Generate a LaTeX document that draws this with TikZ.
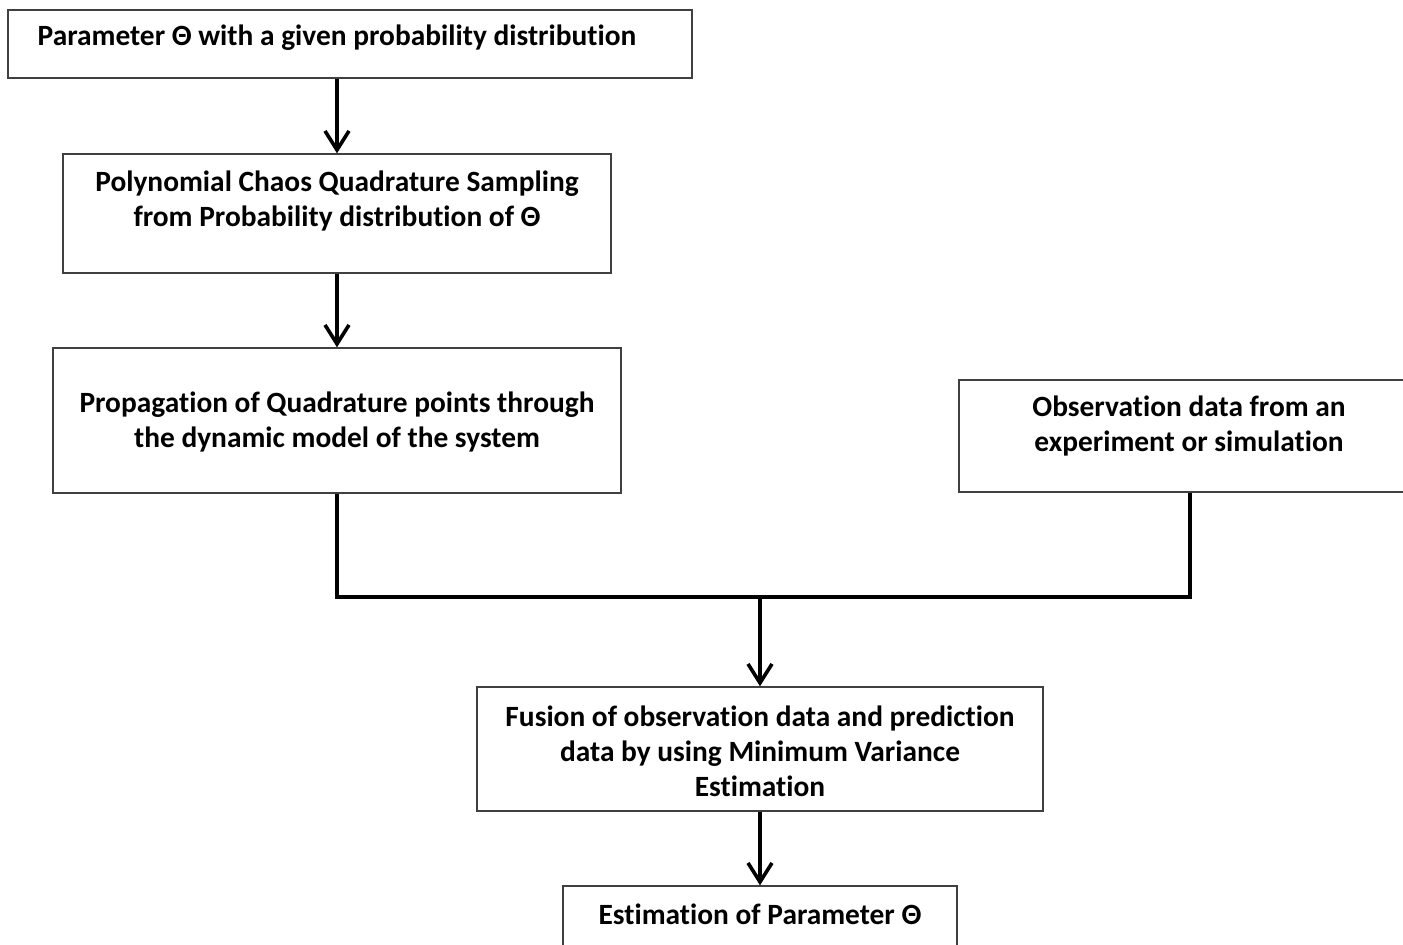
\documentclass[tikz,border=0pt]{standalone}
\usepackage{fontspec}
\setmainfont[RawFeature=-liga]{Carlito}
\usetikzlibrary{arrows.meta}
\begin{document}
\begin{tikzpicture}[x=1pt,y=-1pt,
  box/.style={draw=black!75, line width=1.4pt, rectangle, inner sep=0pt},
  txt/.style={font=\bfseries\fontsize{29.4}{35}\selectfont, align=center, inner sep=0pt},
  conn/.style={line width=4pt},
  arr/.style={line width=4pt, -{Straight Barb[length=19pt,width=24pt,line width=3.6pt]}}]
\useasboundingbox (0,0) rectangle (1403,945);
\node[box, minimum width=684pt, minimum height=68pt] (b1) at (350,44) {};
\node[box, minimum width=548pt, minimum height=119pt] (b2) at (337,213.5) {};
\node[box, minimum width=568pt, minimum height=145pt] (b3) at (337,420.5) {};
\node[box, minimum width=461pt, minimum height=112pt] (b4) at (1189.5,436) {};
\node[box, minimum width=566pt, minimum height=124pt] (b5) at (760,749) {};
\node[box, minimum width=394pt, minimum height=74pt] (b6) at (760,923) {};
\node[txt] (t1) at (337,38) {Parameter Θ with a given probability distribution};
\node[txt] (t2) at (337,200.5) {Polynomial Chaos Quadrature Sampling\\from Probability distribution of Θ};
\node[txt] (t3) at (337,421.5) {Propagation of Quadrature points through\\the dynamic model of the system};
\node[txt] (t4) at (1189,425.5) {Observation data from an\\experiment or simulation};
\node[txt] (t5) at (760,751) {Fusion of observation data and prediction\\data by using Minimum Variance\\Estimation};
\node[txt] (t6) at (760,914) {Estimation of Parameter Θ};
\coordinate (jl) at (337,597);
\coordinate (jr) at (1190,597);
\coordinate (jm) at (760,597);
\draw[arr] (b1.south -| b2.north) -- (b2.north);
\draw[arr] (b2.south) -- (b3.north);
\draw[conn] (b3.south) -- (jl) -- (jr) -- (jr |- b4.south);
\draw[arr] (jm) -- (b5.north);
\draw[arr] (b5.south) -- (b6.north);
\end{tikzpicture}
\end{document}
